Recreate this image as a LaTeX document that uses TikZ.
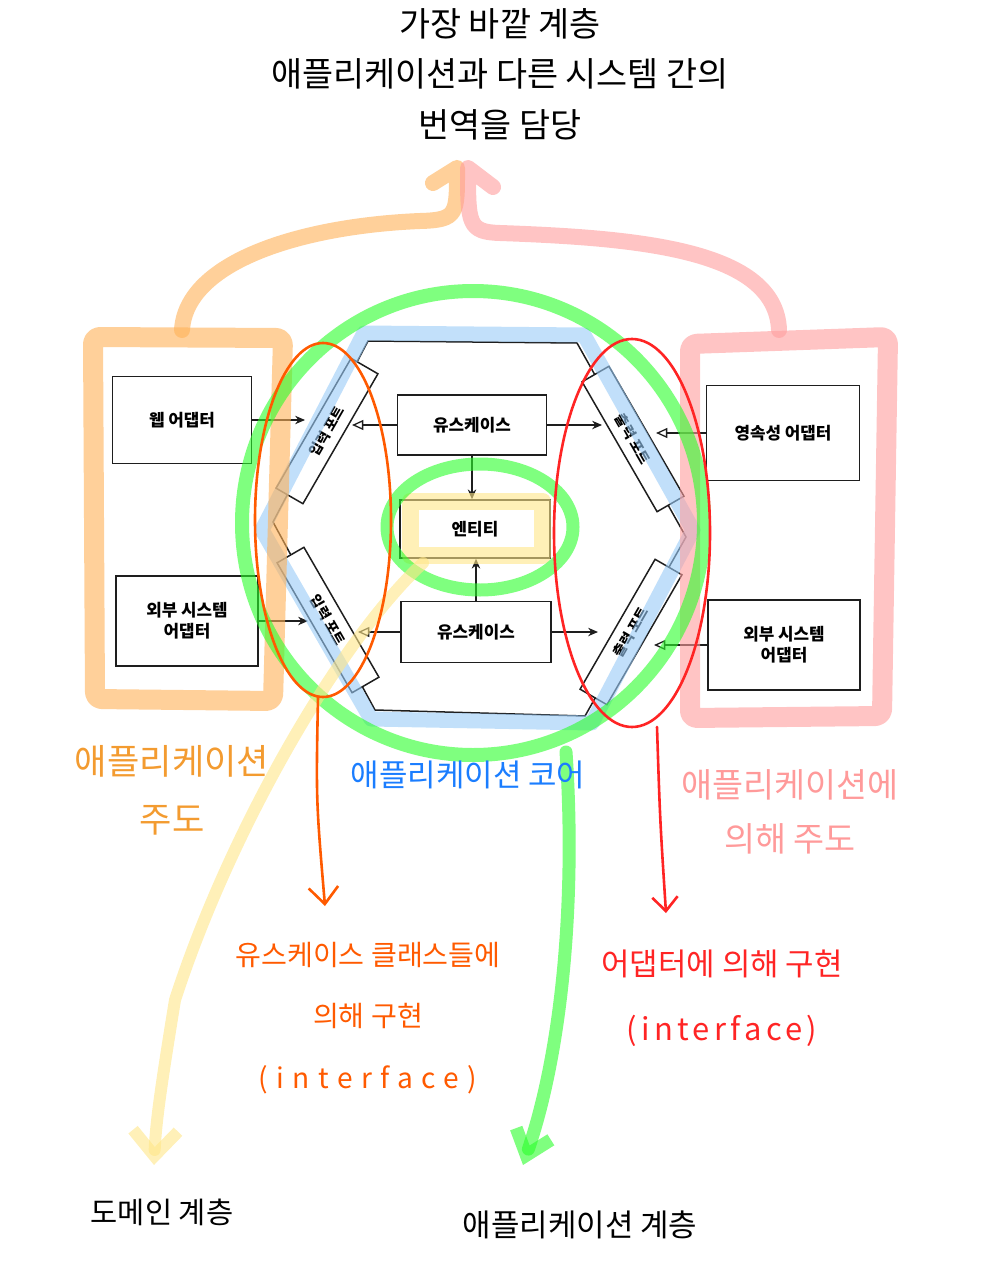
\documentclass[tikz,border=0pt]{standalone}
\usepackage{fontspec}
\setmainfont{Noto Sans CJK KR}
\usetikzlibrary{arrows.meta}

\def\pxu{0.025cm}

\definecolor{boxline}{HTML}{1E1E1E}
\definecolor{peach}{HTML}{FFB157}
\definecolor{rose}{HTML}{FF9D9D}
\definecolor{lime}{HTML}{2AFF2A}
\definecolor{sky}{HTML}{99CBF7}
\definecolor{cream}{HTML}{FFE688}
\definecolor{tangerine}{HTML}{FF5A00}
\definecolor{scarlet}{HTML}{FF2424}
\definecolor{amber}{HTML}{F39B30}
\definecolor{azure}{HTML}{1A7DFF}
\definecolor{blush}{HTML}{FF9A9A}

\tikzset{
    block/.style={draw=boxline, line width=1.5*\pxu, fill=white, align=center,
        font=\fontsize{12}{15}\selectfont\bfseries},
    port/.style={block, minimum width=150*\pxu, minimum height=31*\pxu, inner sep=0pt,
        font=\fontsize{10}{12}\selectfont\bfseries},
    link/.style={-{Stealth[length=7pt,width=6pt]}, line width=1.3*\pxu, boxline},
    call/.style={-{Triangle[open,length=8pt,width=7pt]}, line width=1.3*\pxu, boxline},
    marker/.style={line width=#1*\pxu, line cap=round, line join=round, opacity=0.6},
    marker/.default=16,
    pen/.style={line width=2.6*\pxu, line cap=round, line join=round},
    hand/.style={align=center, font=\fontsize{22}{40}\selectfont},
}

\begin{document}
\begin{tikzpicture}[x=\pxu, y=-\pxu]
    \useasboundingbox (0,0) rectangle (1000,1280);

    % hexagon of the core
    \coordinate (h1) at (368,341);
    \coordinate (h2) at (577,343);
    \coordinate (h3) at (686,537);
    \coordinate (h4) at (585,716);
    \coordinate (h5) at (375,710);
    \coordinate (h6) at (273,522);
    \draw[boxline, line width=1.5*\pxu] (h1) -- (h2) -- (h3) -- (h4) -- (h5) -- (h6) -- cycle;

    % adapters
    \node[block, minimum width=139*\pxu, minimum height=87*\pxu] (web) at (182,420) {웹 어댑터};
    \node[block, minimum width=142*\pxu, minimum height=90*\pxu] (extL) at (187,621) {외부 시스템\\어댑터};
    \node[block, minimum width=153*\pxu, minimum height=95*\pxu] (persist) at (783,433) {영속성 어댑터};
    \node[block, minimum width=152*\pxu, minimum height=90*\pxu] (extR) at (784,645) {외부 시스템\\어댑터};

    % core
    \node[block, minimum width=149*\pxu, minimum height=60*\pxu] (ucA) at (472,425) {유스케이스};
    \node[block, minimum width=150*\pxu, minimum height=58*\pxu] (entity) at (475,529) {엔티티};
    \node[block, minimum width=150*\pxu, minimum height=61*\pxu] (ucB) at (476,632) {유스케이스};

    % ports
    \node[port, rotate=60] (inA) at (327,431) {입력 포트};
    \node[port, rotate=-60] (inB) at (328,620) {입력 포트};
    \node[port, rotate=-60] (outA) at (633,439) {출력 포트};
    \node[port, rotate=60] (outB) at (631,632) {출력 포트};

    \draw[link, shorten >=22*\pxu] (web.east) -- (web.east -| inA.center);
    \draw[call, shorten >=25*\pxu] (ucA.west) -- (ucA.west -| inA.center);
    \draw[link, shorten >=31*\pxu] (ucA.east) -- (ucA.east -| outA.center);
    \draw[call, shorten >=23*\pxu] (persist.west) -- (persist.west -| outA.center);

    \draw[link, shorten >=20*\pxu] (extL.east) -- (extL.east -| inB.center);
    \draw[call, shorten >=30*\pxu] (ucB.west) -- (ucB.west -| inB.center);
    \draw[link, shorten >=33*\pxu] (ucB.east) -- (ucB.east -| outB.center);
    \draw[call, shorten >=23*\pxu] (extR.west) -- (extR.west -| outB.center);

    \draw[link] (ucA.south) -- (ucA.south |- entity.north);
    \draw[link] (ucB.north) -- (ucB.north |- entity.south);

    % marker strokes
    \draw[marker=15, sky] (364,333) -- (584,335) -- (693,530) -- (592,723) -- (371,719) -- (262,530) -- cycle;
    \draw[marker=17, cream] ([shift={(11,-3)}]entity.south west) rectangle ([shift={(-8,2)}]entity.north east);
    \draw[marker=20, peach, rounded corners=5pt] (93,337) -- (283,338) -- (273,701) -- (95,699) -- cycle;
    \draw[marker=20, rose, rounded corners=5pt] (690,344) -- (888,337) -- (882,716) -- (690,718) -- cycle;
    \draw[marker=16, peach] (182,330) .. controls (186,262) and (300,226) .. (420,221)
        .. controls (458,220) and (457,214) .. (457,168) -- (433,183);
    \draw[marker=16, rose] (779,330) .. controls (776,250) and (640,238) .. (500,233)
        .. controls (468,232) and (468,224) .. (468,168) -- (493,187);
    \draw[marker=14, lime] (473,523) ellipse [x radius=231, y radius=232];
    \draw[marker=13, lime] (480,527) ellipse [x radius=93, y radius=63];

    \coordinate (gTail) at (566,752);
    \coordinate (yTail) at (423,563);
    \draw[marker=13, lime, -{Straight Barb[length=16pt,width=26pt]}] (gTail)
        .. controls (576,900) and (562,1050) .. (523,1165);
    \draw[marker=12, cream, -{Straight Barb[length=18pt,width=32pt]}] (yTail)
        .. controls (340,640) and (230,830) .. (175,1000)
        .. controls (162,1080) and (156,1120) .. (154,1165);

    % ovals for ports
    \draw[pen, tangerine] (323,520) ellipse [x radius=68, y radius=177];
    \draw[pen, scarlet] (632,533) ellipse [x radius=78, y radius=194];
    \coordinate (inTail) at (318,697);
    \coordinate (outTail) at (657,727);
    \draw[pen, tangerine, -{Straight Barb[length=12pt,width=21pt]}] (inTail) .. controls (316,800) .. (325,906);
    \draw[pen, scarlet, -{Straight Barb[length=10pt,width=18pt]}] (outTail) .. controls (660,820) .. (666,913);

    % texts
    \node[hand, font=\fontsize{24}{36}\selectfont] (title) at (500,74)
        {가장 바깥 계층\\애플리케이션과 다른 시스템 간의\\번역을 담당};
    \node[hand, text=amber, font=\fontsize{25}{41}\selectfont] (drivingLbl) at (172,790)
        {애플리케이션\\주도};
    \node[hand, text=azure] (coreLbl) at (468,775) {애플리케이션 코어};
    \node[hand, text=blush, font=\fontsize{24}{38}\selectfont] (drivenLbl) at (790,812)
        {애플리케이션에\\의해 주도};
    \node[hand, text=tangerine, font=\fontsize{20}{44}\selectfont] (inLbl) at (368,1018)
        {유스케이스 클래스들에\\의해 구현\\{\addfontfeature{LetterSpace=30}(interface)}};
    \node[hand, text=scarlet, font=\fontsize{22}{46}\selectfont] (outLbl) at (722,998)
        {어댑터에 의해 구현\\{\addfontfeature{LetterSpace=14}(interface)}};
    \node[hand, font=\fontsize{21}{30}\selectfont] (domainLbl) at (162,1212) {도메인 계층};
    \node[hand] (appLbl) at (580,1225) {애플리케이션 계층};
\end{tikzpicture}
\end{document}
